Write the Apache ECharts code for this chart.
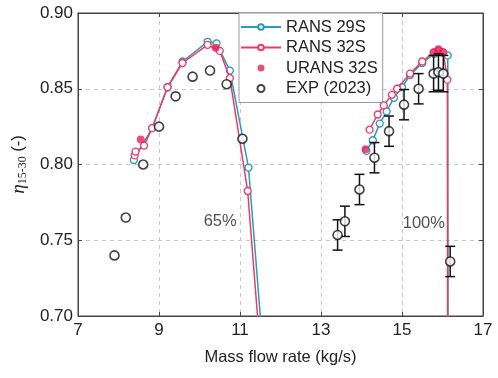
<!DOCTYPE html>
<html><head><meta charset="utf-8">
<script src="https://cdn.jsdelivr.net/npm/echarts@6/dist/echarts.min.js"></script>
<style>html,body{margin:0;padding:0;background:#fff}#c{width:498px;height:378px}</style>
</head><body><div id="c"></div>
<script>
// ---- data ----
const xTicks = [7, 9, 11, 13, 15, 17];
const yTicks = [0.70, 0.75, 0.80, 0.85, 0.90];

const rans29L_x = [8.38, 8.83, 9.21, 9.58, 10.20, 10.42, 10.75, 11.21, 11.65];
const rans29L_y = [0.803, 0.824, 0.851, 0.868, 0.881, 0.880, 0.862, 0.798, 0.65];
const rans29R_x = [14.12, 14.28, 14.45, 14.62, 14.80, 15.00, 15.20, 15.50, 15.80, 16.00, 16.13, 16.14];
const rans29R_y = [0.809, 0.816, 0.827, 0.835, 0.844, 0.851, 0.859, 0.867, 0.873, 0.874, 0.872, 0.60];

const rans32L_x = [8.40, 8.42, 8.63, 8.83, 9.21, 9.58, 10.20, 10.50, 10.75, 11.19, 11.58];
const rans32L_y = [0.806, 0.8085, 0.8125, 0.824, 0.851, 0.867, 0.879, 0.875, 0.857, 0.7825, 0.65];
const rans32R_x = [14.20, 14.40, 14.55, 14.75, 14.88, 15.20, 15.50, 15.78, 15.90, 16.02, 16.12, 16.13];
const rans32R_y = [0.823, 0.833, 0.839, 0.846, 0.850, 0.860, 0.868, 0.874, 0.875, 0.874, 0.856, 0.60];

const urans32_x = [8.55, 10.40, 14.10, 15.80, 15.90, 16.00];
const urans32_y = [0.8165, 0.877, 0.810, 0.874, 0.876, 0.874];

const exp_x = [7.90, 8.18, 8.61, 9.00, 9.41, 9.83, 10.26, 10.67, 11.06, 13.41, 13.59, 13.95, 14.32, 14.68, 15.05, 15.41, 15.78, 15.90, 16.02, 16.19];
const exp_y = [0.740, 0.765, 0.800, 0.825, 0.845, 0.858, 0.862, 0.853, 0.817, 0.7535, 0.7625, 0.7835, 0.8045, 0.8220, 0.8395, 0.850, 0.860, 0.861, 0.860, 0.736];
const exp_err = [0, 0, 0, 0, 0, 0, 0, 0, 0, 0.010, 0.010, 0.010, 0.010, 0.010, 0.010, 0.010, 0.012, 0.012, 0.012, 0.010];

const annotX = [10.51, 15.54];
const annotY = [0.7627, 0.7614];
const annotText = ['65%', '100%'];

// ---- build ----
const zip = (xs, ys) => xs.map((x, i) => [x, ys[i]]);
const joinSeg = (a, b) => a.concat([['-', '-']], b);

const C29 = '#2a9bb8', C32 = '#ee3a6a', CU = '#e3215a';
const FONT = 'Liberation Sans, Arial, sans-serif';

const chart = echarts.init(document.getElementById('c'));
const axisCommon = {
  axisLine: { show: true, lineStyle: { color: '#444', width: 1 } },
  axisTick: { show: true, inside: true, length: 4, lineStyle: { color: '#444' } },
};
chart.setOption({
  backgroundColor: '#fff',
  animation: false,
  textStyle: { fontFamily: FONT },
  grid: { left: 78, right: 15, top: 13, bottom: 62, show: true, borderColor: '#444', borderWidth: 1 },
  legend: {
    orient: 'vertical', left: 239, top: 13,
    backgroundColor: '#fff', borderColor: '#999', borderWidth: 1,
    padding: [5, 5, 5, 1], itemWidth: 40, itemHeight: 7, itemGap: 2.5,
    textStyle: { fontSize: 16.5, color: '#222', fontFamily: FONT, lineHeight: 18 },
    data: [
      { name: 'RANS 29S' }, { name: 'RANS 32S' },
      { name: 'URANS 32S', icon: 'circle' },
      { name: 'EXP (2023)', icon: 'circle' }
    ]
  },
  xAxis: [{
    type: 'value', min: xTicks[0], max: xTicks[xTicks.length - 1], interval: 2,
    name: 'Mass flow rate (kg/s)', nameLocation: 'middle', nameGap: 33,
    nameTextStyle: { fontSize: 16.5, color: '#222' },
    axisLabel: { fontSize: 17, color: '#222', margin: 6 },
    splitLine: { show: true, lineStyle: { type: [4, 4], color: '#c8c8c8' } },
    ...axisCommon
  }, {
    type: 'value', position: 'top', min: 7, max: 17, interval: 2,
    axisLabel: { show: false }, splitLine: { show: false }, ...axisCommon
  }],
  yAxis: [{
    type: 'value', min: yTicks[0], max: yTicks[yTicks.length - 1], interval: 0.05,
    name: '{i|η}{s|15-30} (-)', nameLocation: 'middle', nameGap: 46, nameRotate: 90,
    nameTextStyle: { fontSize: 16.5, color: '#222',
      rich: { i: { fontSize: 19, fontStyle: 'italic', fontFamily: 'Liberation Serif, serif', color: '#222' },
              s: { fontSize: 12, fontFamily: 'Liberation Serif, serif', color: '#222', padding: [9, 0, 0, 0] } } },
    axisLabel: { fontSize: 17, color: '#222', margin: 5, formatter: v => v.toFixed(2) },
    splitLine: { show: true, lineStyle: { type: [4, 4], color: '#c8c8c8' } },
    ...axisCommon
  }, {
    type: 'value', position: 'right', min: 0.70, max: 0.90, interval: 0.05,
    axisLabel: { show: false }, splitLine: { show: false }, ...axisCommon
  }],
  series: [
    {
      name: 'RANS 29S', type: 'line', data: joinSeg(zip(rans29L_x, rans29L_y), zip(rans29R_x, rans29R_y)),
      symbol: 'circle', symbolSize: 7, showAllSymbol: true, clip: true,
      lineStyle: { color: C29, width: 1.5 },
      itemStyle: { color: '#fff', borderColor: C29, borderWidth: 1.3 }, z: 3
    },
    {
      name: 'RANS 32S', type: 'line', data: joinSeg(zip(rans32L_x, rans32L_y), zip(rans32R_x, rans32R_y)),
      symbol: 'circle', symbolSize: 7, showAllSymbol: true, clip: true,
      lineStyle: { color: C32, width: 1.5 },
      itemStyle: { color: '#fff', borderColor: C32, borderWidth: 1.3 }, z: 4
    },
    {
      name: 'URANS 32S', type: 'scatter', data: zip(urans32_x, urans32_y),
      symbol: 'circle', symbolSize: 8, itemStyle: { color: CU }, z: 5
    },
    {
      name: 'EXP err', type: 'custom', z: 6,
      data: exp_x.map((x, i) => [x, exp_y[i], exp_err[i]]).filter(d => d[2] > 0),
      renderItem: (params, api) => {
        const x = api.value(0), y = api.value(1), e = api.value(2);
        const top = api.coord([x, y + e]), bot = api.coord([x, y - e]);
        const w = 5;
        const st = { stroke: '#111', lineWidth: 1.5 };
        return { type: 'group', children: [
          { type: 'line', shape: { x1: top[0], y1: top[1], x2: bot[0], y2: bot[1] }, style: st },
          { type: 'line', shape: { x1: top[0] - w, y1: top[1], x2: top[0] + w, y2: top[1] }, style: st },
          { type: 'line', shape: { x1: bot[0] - w, y1: bot[1], x2: bot[0] + w, y2: bot[1] }, style: st }
        ]};
      }
    },
    {
      name: 'EXP (2023)', type: 'scatter', data: zip(exp_x, exp_y), z: 7,
      symbol: 'circle', symbolSize: 9,
      itemStyle: { color: '#fff', borderColor: '#111', borderWidth: 1.6 }
    },
    {
      name: 'annot', type: 'scatter', symbolSize: 0, z: 8, silent: true,
      data: annotX.map((x, i) => ({ value: [x, annotY[i]], label: { formatter: annotText[i] } })),
      label: { show: true, position: 'inside', fontSize: 16.5, color: '#222', fontFamily: FONT }
    }
  ]
});
</script></body></html>
